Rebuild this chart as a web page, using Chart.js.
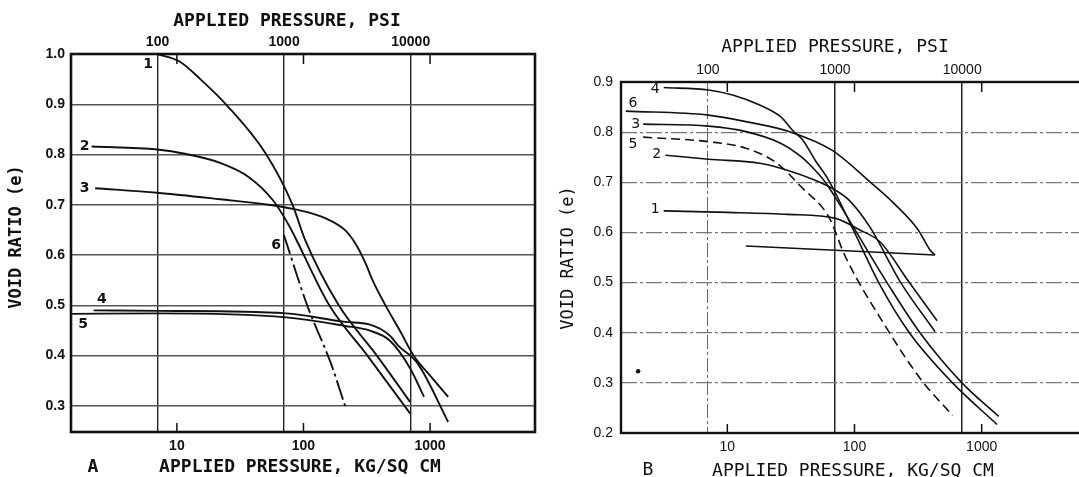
<!DOCTYPE html>
<html><head><meta charset="utf-8">
<script src="https://cdn.jsdelivr.net/npm/chart.js@4.4.1/dist/chart.umd.min.js"></script>
<style>
html,body{margin:0;padding:0;background:#fff;overflow:hidden;width:1079px;height:477px;position:relative;}
#wa{position:absolute;left:0;top:0;width:545px;height:477px;}
#wb{position:absolute;left:545px;top:0;width:560px;height:477px;}
canvas{display:block;}
</style></head><body>
<div id="wa"><canvas id="ca" width="545" height="477"></canvas></div>
<div id="wb"><canvas id="cb" width="560" height="477"></canvas></div>
<script>
// ---------------- DATA ----------------
const PSI_PER_KG = 14.2233;
const kgTicks = [10, 100, 1000];
const psiTicks = [100, 1000, 10000];
const yTicksA = [0.3, 0.4, 0.5, 0.6, 0.7, 0.8, 0.9, 1.0];
const yTicksB = [0.2, 0.3, 0.4, 0.5, 0.6, 0.7, 0.8, 0.9];

// Panel A  (pressure kg/sq cm, void ratio)
const a1P = [7.0, 10.5, 15.3, 25, 50, 82, 103, 190, 380, 695];
const a1E = [1.0, 0.985, 0.95, 0.897, 0.803, 0.70, 0.63, 0.50, 0.40, 0.308];
const a2P = [2.12, 7, 11.8, 22.2, 36.6, 57, 77.6, 88, 160, 320, 695];
const a2E = [0.816, 0.81, 0.801, 0.783, 0.756, 0.71, 0.657, 0.63, 0.50, 0.40, 0.285];
const a3P = [2.26, 7, 22, 53, 97, 150, 212, 257, 309, 351, 444, 577, 741, 1016, 1390];
const a3E = [0.733, 0.724, 0.711, 0.70, 0.688, 0.673, 0.65, 0.623, 0.584, 0.55, 0.50, 0.45, 0.40, 0.358, 0.318];
const a4P = [2.2, 7.2, 73, 213, 331, 480, 560, 800, 1390];
const a4E = [0.49, 0.489, 0.484, 0.467, 0.462, 0.44, 0.42, 0.384, 0.268];
const a5P = [1.46, 7.2, 73, 213, 331, 480, 695, 895];
const a5E = [0.483, 0.484, 0.476, 0.459, 0.45, 0.43, 0.375, 0.318];
const a6P = [70, 107, 165, 213];
const a6E = [0.64, 0.50, 0.384, 0.30];

// Panel B
const b1P = [3.16, 10, 30, 71, 110, 159, 270, 446];
const b1E = [0.643, 0.64, 0.636, 0.628, 0.605, 0.581, 0.50, 0.424];
const b2P = [3.26, 7.1, 18, 29.6, 49, 71, 91, 132, 231, 430];
const b2E = [0.754, 0.746, 0.738, 0.724, 0.704, 0.684, 0.664, 0.611, 0.50, 0.402];
const b3P = [2.18, 7.1, 14, 26.2, 38, 49, 59, 75.5, 180, 327, 700, 1362];
const b3E = [0.816, 0.812, 0.801, 0.778, 0.751, 0.724, 0.70, 0.658, 0.50, 0.40, 0.30, 0.233];
const b4P = [3.16, 7.1, 11, 18, 26.2, 33.6, 39.3, 49, 62.7, 100, 155, 270, 590, 1320];
const b4E = [0.889, 0.884, 0.874, 0.854, 0.831, 0.80, 0.784, 0.744, 0.704, 0.60, 0.50, 0.40, 0.30, 0.217];
const b5P = [2.18, 7.1, 14, 24.6, 38, 62.7, 85, 170, 337, 590];
const b5E = [0.79, 0.781, 0.768, 0.738, 0.691, 0.631, 0.551, 0.418, 0.305, 0.235];
const b6P = [1.59, 7.1, 14, 31.7, 66.5, 132, 204, 317, 392, 430];
const b6E = [0.842, 0.834, 0.821, 0.80, 0.764, 0.701, 0.658, 0.605, 0.565, 0.555];
const b6rP = [430, 14];            // rebound branch of curve 6
const b6rE = [0.555, 0.573];
const bDotP = [1.99];
const bDotE = [0.323];

// curve number labels (pressure, void ratio)
const aLabels = [
  {t:'1', p:5.93, e:0.979}, {t:'2', p:1.87, e:0.816}, {t:'3', p:1.87, e:0.733},
  {t:'4', p:2.56, e:0.511}, {t:'5', p:1.82, e:0.462}, {t:'6', p:60.7, e:0.62}
];
const bLabels = [
  {t:'4', p:2.71, e:0.885}, {t:'6', p:1.81, e:0.857}, {t:'3', p:1.90, e:0.816},
  {t:'5', p:1.81, e:0.776}, {t:'2', p:2.79, e:0.756}, {t:'1', p:2.71, e:0.646}
];

// ---------------- BUILD ----------------
const pts = (P, E) => P.map((p, i) => ({x: p, y: E[i]}));

function decorPlugin(o) {
  return {
    id: 'decor',
    afterDatasetsDraw(chart) {
      const {ctx, chartArea: a, scales} = chart;
      ctx.save();
      ctx.strokeStyle = '#111';
      ctx.lineWidth = 1.5;
      kgTicks.forEach(v => {
        const x = scales.x.getPixelForValue(v);
        ctx.beginPath();
        ctx.moveTo(x, a.bottom); ctx.lineTo(x, a.bottom - 9);
        ctx.moveTo(x, a.top); ctx.lineTo(x, a.top + 10);
        ctx.stroke();
      });
      ctx.lineWidth = o.frameW;
      ctx.strokeRect(a.left, a.top, a.right - a.left, a.bottom - a.top);
      ctx.fillStyle = '#111';
      ctx.font = o.labelFont;
      ctx.textAlign = 'center';
      ctx.textBaseline = 'middle';
      o.labels.forEach(l => ctx.fillText(l.t, scales.x.getPixelForValue(l.p), scales.y.getPixelForValue(l.e)));
      o.texts.forEach(t => {
        ctx.save();
        ctx.font = t.font;
        ctx.translate(t.x, t.y);
        if (t.rot) ctx.rotate(t.rot);
        ctx.fillText(t.s, 0, 0);
        ctx.restore();
      });
      ctx.restore();
    }
  };
}

function makePanel(id, c) {
  const datasets = c.curves.map(cv => ({
    data: pts(cv.p, cv.e),
    xAxisID: 'x', yAxisID: 'y',
    borderColor: '#111', backgroundColor: '#111',
    borderWidth: c.lw, borderDash: cv.dash || [],
    pointRadius: cv.r || 0, pointBorderWidth: 0,
    showLine: cv.r ? false : true,
    cubicInterpolationMode: cv.straight ? 'default' : 'monotone',
    tension: cv.straight ? 0 : 0.4,
    fill: false
  }));
  return new Chart(document.getElementById(id), {
    type: 'line',
    data: {datasets},
    options: {
      responsive: false, animation: false, devicePixelRatio: 1,
      layout: {padding: {left: 0, right: c.padR, top: 0, bottom: 0}},
      plugins: {legend: {display: false}, tooltip: {enabled: false}},
      scales: {
        x: {
          type: 'logarithmic', position: 'bottom', min: c.xMin, max: c.xMax,
          afterBuildTicks: s => { s.ticks = kgTicks.map(v => ({value: v})); },
          afterFit: s => { s.height = c.bottomH; },
          grid: {display: true, drawOnChartArea: false, drawTicks: false},
          border: {display: false},
          ticks: {callback: v => String(v), font: c.numFont, color: '#111', padding: c.bPad, maxRotation: 0, autoSkip: false}
        },
        x2: {
          type: 'logarithmic', position: 'top', min: c.xMin * PSI_PER_KG, max: c.xMax * PSI_PER_KG,
          afterBuildTicks: s => { s.ticks = psiTicks.map(v => ({value: v})); },
          afterFit: s => { s.height = c.topH; },
          grid: {drawTicks: false, color: c.vGridColor, lineWidth: c.vGridW},
          border: {display: false, dash: c.vDash},
          ticks: {callback: v => String(v), font: c.numFont, color: '#111', padding: c.tPad, maxRotation: 0, autoSkip: false}
        },
        y: {
          type: 'linear', position: 'left', min: c.yMin, max: c.yMax,
          afterBuildTicks: s => { s.ticks = c.yTicks.map(v => ({value: v})); },
          afterFit: s => { s.width = c.leftW; },
          grid: {drawTicks: false, color: c.hGridColor, lineWidth: c.hGridW},
          border: {display: false, dash: c.hDash},
          ticks: {callback: v => v.toFixed(1), font: c.numFont, color: '#111', padding: c.yPad, autoSkip: false}
        }
      }
    },
    plugins: [decorPlugin(c.decor)]
  });
}

// Panel A
makePanel('ca', {
  lw: 1.9, padR: 10, xMin: 1.457, xMax: 6745, yMin: 0.248, yMax: 1.0, yTicks: yTicksA,
  bottomH: 45, topH: 54, leftW: 71, bPad: 6, tPad: 3, yPad: 6,
  numFont: {family: 'Liberation Sans', size: 14, weight: 'bold'},
  vGridColor: '#222', vGridW: 1.4, vDash: [],
  hGridColor: '#555', hGridW: 1.4, hDash: [],
  curves: [
    {p: a1P, e: a1E}, {p: a2P, e: a2E}, {p: a3P, e: a3E},
    {p: a4P, e: a4E}, {p: a5P, e: a5E}, {p: a6P, e: a6E, dash: [20, 4, 3, 4]}
  ],
  decor: {
    frameW: 2.6, labelFont: 'bold 14px "DejaVu Sans"', labels: aLabels,
    texts: [
      {s: 'APPLIED PRESSURE, PSI', x: 287, y: 21, font: 'bold 18px "DejaVu Sans Mono"'},
      {s: 'APPLIED PRESSURE, KG/SQ CM', x: 300, y: 467, font: 'bold 18px "DejaVu Sans Mono"'},
      {s: 'A', x: 93, y: 467, font: 'bold 18px "DejaVu Sans Mono"'},
      {s: 'VOID RATIO (e)', x: 17, y: 237, rot: -Math.PI / 2, font: 'bold 17px "DejaVu Sans Mono"'}
    ]
  }
});

// Panel B
makePanel('cb', {
  lw: 1.6, padR: 18, xMin: 1.459, xMax: 6730, yMin: 0.2, yMax: 0.9, yTicks: yTicksB,
  bottomH: 44, topH: 82, leftW: 76, bPad: 6, tPad: 3, yPad: 8,
  numFont: {family: 'Liberation Sans', size: 14},
  vGridColor: ctx => ctx.tick && ctx.tick.value === 100 ? '#666' : '#222',
  vGridW: ctx => ctx.tick && ctx.tick.value === 100 ? 1 : 1.5,
  vDash: ctx => ctx.tick && ctx.tick.value === 100 ? [14, 3, 3, 3] : [],
  hGridColor: '#777', hGridW: 1.2, hDash: [16, 3, 3, 3],
  curves: [
    {p: b1P, e: b1E}, {p: b2P, e: b2E}, {p: b3P, e: b3E},
    {p: b4P, e: b4E}, {p: b5P, e: b5E, dash: [9, 5]}, {p: b6P, e: b6E},
    {p: b6rP, e: b6rE, straight: true}, {p: bDotP, e: bDotE, r: 2.2}
  ],
  decor: {
    frameW: 2.4, labelFont: '14px "DejaVu Sans"', labels: bLabels,
    texts: [
      {s: 'APPLIED PRESSURE, PSI', x: 290, y: 47, font: '18px "DejaVu Sans Mono"'},
      {s: 'APPLIED PRESSURE, KG/SQ CM', x: 308, y: 471, font: '18px "DejaVu Sans Mono"'},
      {s: 'B', x: 103, y: 470, font: '18px "DejaVu Sans Mono"'},
      {s: 'VOID RATIO (e)', x: 24, y: 258, rot: -Math.PI / 2, font: '17px "DejaVu Sans Mono"'}
    ]
  }
});
</script>
</body></html>
